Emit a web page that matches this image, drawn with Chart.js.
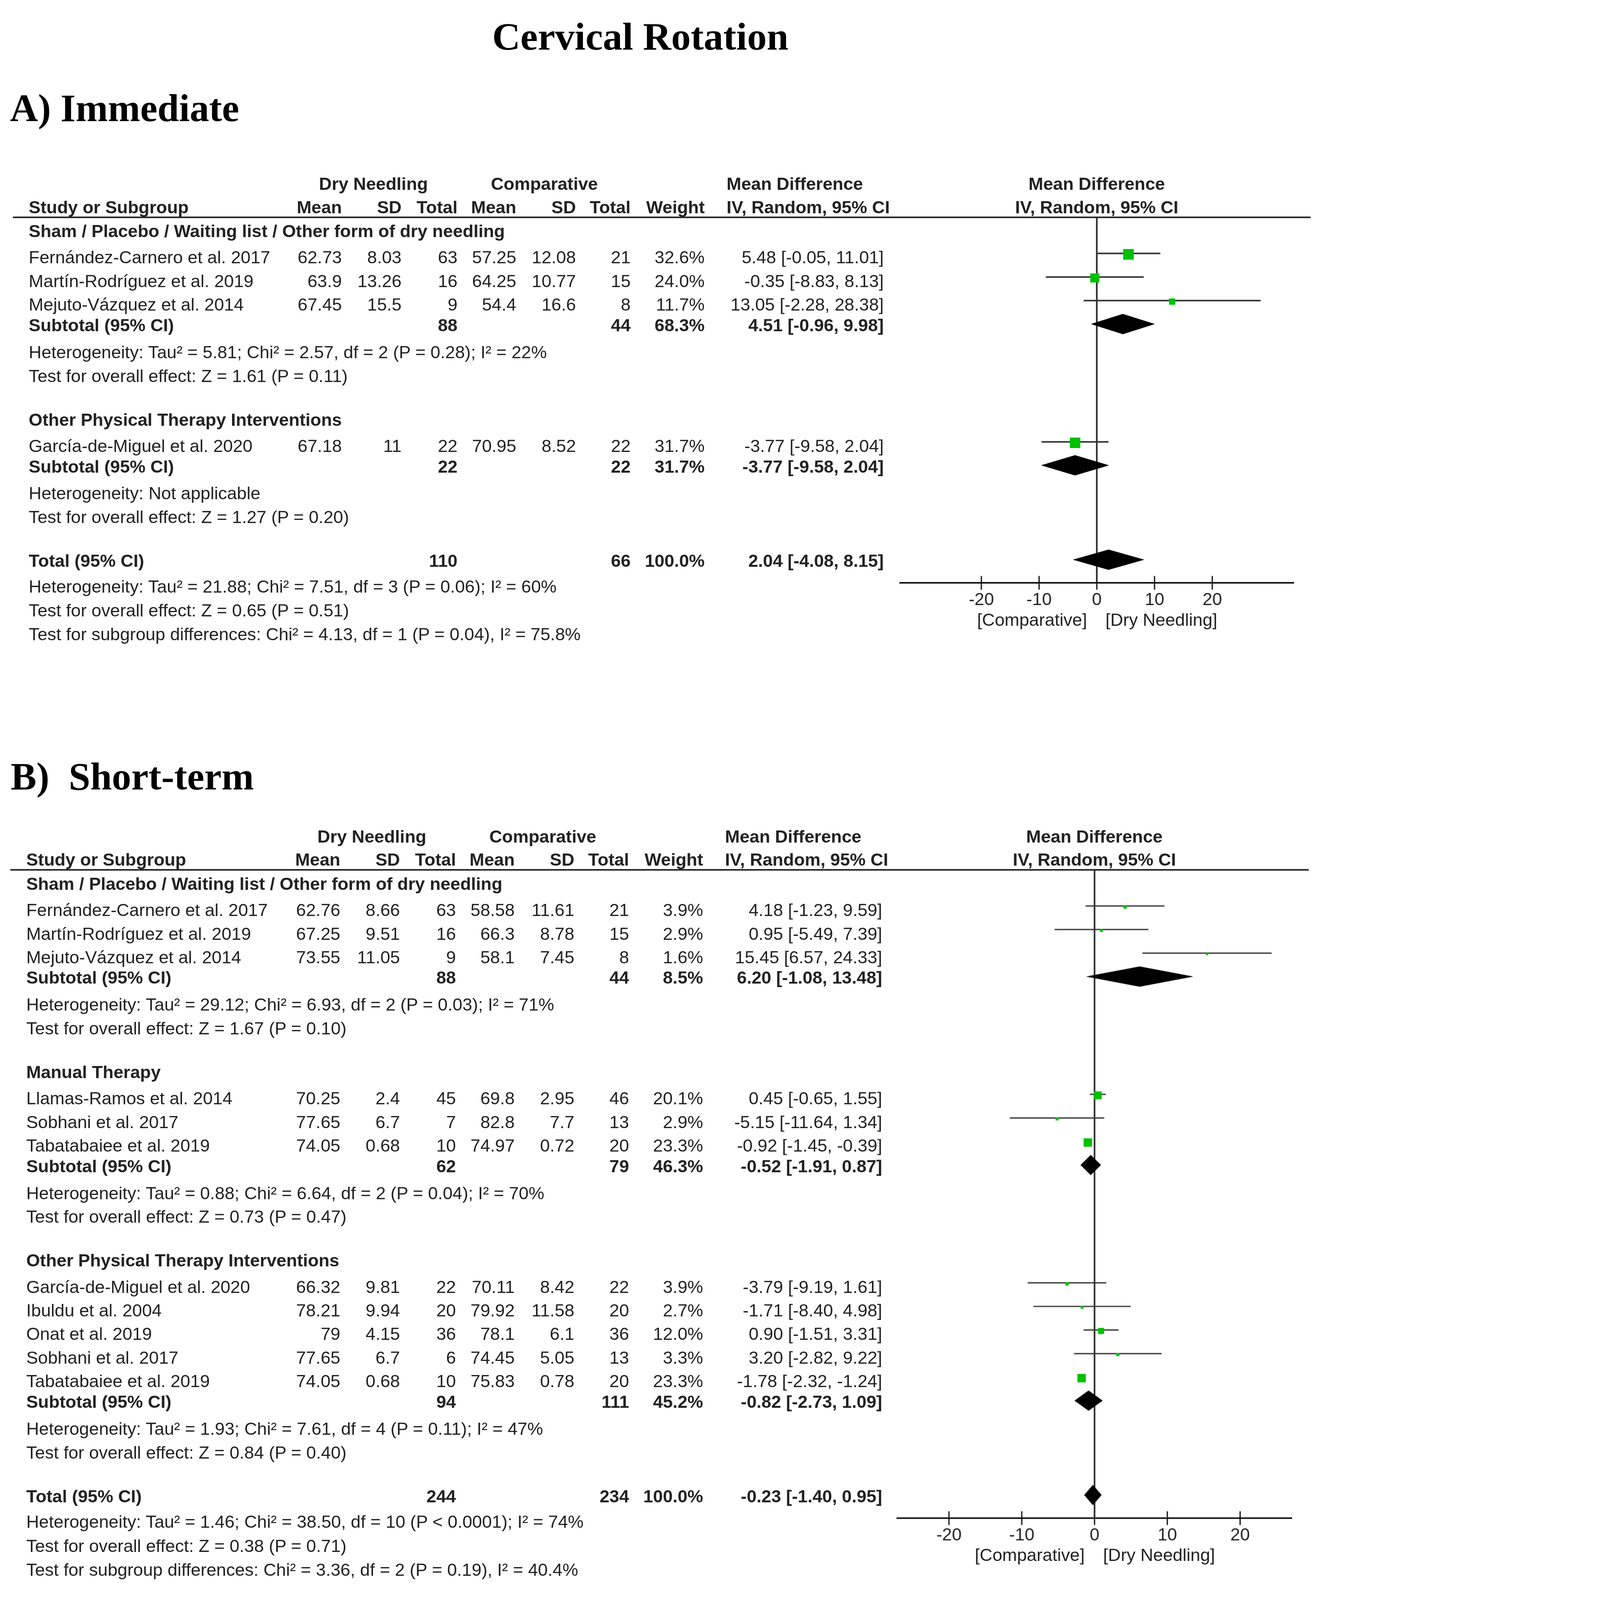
<!DOCTYPE html>
<html>
<head>
<meta charset="utf-8">
<title>Cervical Rotation</title>
<script src="https://cdn.jsdelivr.net/npm/chart.js@4.4.1/dist/chart.umd.min.js"></script>
<style>
html, body { margin: 0; padding: 0; background: #fff; overflow: hidden; }
#page { position: relative; width: 4232px; height: 5120px; overflow: hidden; transform-origin: 0 0;
        font-family: "Liberation Sans", Arial, Helvetica, sans-serif; font-size: 56.5px; color: #222; }
.t { position: absolute; white-space: pre; line-height: 64px; height: 64px; }
.b { font-weight: bold; }
.head { position: absolute; white-space: pre; font-family: "Liberation Serif", "Times New Roman", serif;
        font-weight: bold; color: #000; }
.rule { position: absolute; height: 0; border-top: 5px solid #222; }
canvas { position: absolute; }
</style>
</head>
<body>
<div id="page"></div>
<script>
// ---- A) Immediate ----
var immGroups = ['Sham / Placebo / Waiting list / Other form of dry needling', 'Other Physical Therapy Interventions'];
var immStudies = ['Fernández-Carnero et al. 2017', 'Martín-Rodríguez et al. 2019', 'Mejuto-Vázquez et al. 2014', 'García-de-Miguel et al. 2020'];
var immGroupOf = [0, 0, 0, 1];
var immDnMean = [62.73, 63.9, 67.45, 67.18];
var immDnSd = [8.03, 13.26, 15.5, 11];
var immDnN = [63, 16, 9, 22];
var immCoMean = [57.25, 64.25, 54.4, 70.95];
var immCoSd = [12.08, 10.77, 16.6, 8.52];
var immCoN = [21, 15, 8, 22];
var immWeight = [32.6, 24.0, 11.7, 31.7];
var immMD = [5.48, -0.35, 13.05, -3.77];
var immLo = [-0.05, -8.83, -2.28, -9.58];
var immHi = [11.01, 8.13, 28.38, 2.04];
var immSubDnN = [88, 22];
var immSubCoN = [44, 22];
var immSubWeight = [68.3, 31.7];
var immSubMD = [4.51, -3.77];
var immSubLo = [-0.96, -9.58];
var immSubHi = [9.98, 2.04];
var immSubHet = ['Heterogeneity: Tau² = 5.81; Chi² = 2.57, df = 2 (P = 0.28); I² = 22%', 'Heterogeneity: Not applicable'];
var immSubTest = ['Test for overall effect: Z = 1.61 (P = 0.11)', 'Test for overall effect: Z = 1.27 (P = 0.20)'];
var immTotalN = [110, 66];
var immTotalWeight = 100.0;
var immTotalCI = [2.04, -4.08, 8.15];
var immTotalNotes = ['Heterogeneity: Tau² = 21.88; Chi² = 7.51, df = 3 (P = 0.06); I² = 60%',
	'Test for overall effect: Z = 0.65 (P = 0.51)',
	'Test for subgroup differences: Chi² = 4.13, df = 1 (P = 0.04), I² = 75.8%'];

// ---- B) Short-term ----
var stGroups = ['Sham / Placebo / Waiting list / Other form of dry needling', 'Manual Therapy', 'Other Physical Therapy Interventions'];
var stStudies = ['Fernández-Carnero et al. 2017', 'Martín-Rodríguez et al. 2019', 'Mejuto-Vázquez et al. 2014',
	'Llamas-Ramos et al. 2014', 'Sobhani et al. 2017', 'Tabatabaiee et al. 2019',
	'García-de-Miguel et al. 2020', 'Ibuldu et al. 2004', 'Onat et al. 2019', 'Sobhani et al. 2017', 'Tabatabaiee et al. 2019'];
var stGroupOf = [0, 0, 0, 1, 1, 1, 2, 2, 2, 2, 2];
var stDnMean = [62.76, 67.25, 73.55, 70.25, 77.65, 74.05, 66.32, 78.21, 79, 77.65, 74.05];
var stDnSd = [8.66, 9.51, 11.05, 2.4, 6.7, 0.68, 9.81, 9.94, 4.15, 6.7, 0.68];
var stDnN = [63, 16, 9, 45, 7, 10, 22, 20, 36, 6, 10];
var stCoMean = [58.58, 66.3, 58.1, 69.8, 82.8, 74.97, 70.11, 79.92, 78.1, 74.45, 75.83];
var stCoSd = [11.61, 8.78, 7.45, 2.95, 7.7, 0.72, 8.42, 11.58, 6.1, 5.05, 0.78];
var stCoN = [21, 15, 8, 46, 13, 20, 22, 20, 36, 13, 20];
var stWeight = [3.9, 2.9, 1.6, 20.1, 2.9, 23.3, 3.9, 2.7, 12.0, 3.3, 23.3];
var stMD = [4.18, 0.95, 15.45, 0.45, -5.15, -0.92, -3.79, -1.71, 0.90, 3.20, -1.78];
var stLo = [-1.23, -5.49, 6.57, -0.65, -11.64, -1.45, -9.19, -8.40, -1.51, -2.82, -2.32];
var stHi = [9.59, 7.39, 24.33, 1.55, 1.34, -0.39, 1.61, 4.98, 3.31, 9.22, -1.24];
var stSubDnN = [88, 62, 94];
var stSubCoN = [44, 79, 111];
var stSubWeight = [8.5, 46.3, 45.2];
var stSubMD = [6.20, -0.52, -0.82];
var stSubLo = [-1.08, -1.91, -2.73];
var stSubHi = [13.48, 0.87, 1.09];
var stSubHet = ['Heterogeneity: Tau² = 29.12; Chi² = 6.93, df = 2 (P = 0.03); I² = 71%',
	'Heterogeneity: Tau² = 0.88; Chi² = 6.64, df = 2 (P = 0.04); I² = 70%',
	'Heterogeneity: Tau² = 1.93; Chi² = 7.61, df = 4 (P = 0.11); I² = 47%'];
var stSubTest = ['Test for overall effect: Z = 1.67 (P = 0.10)', 'Test for overall effect: Z = 0.73 (P = 0.47)', 'Test for overall effect: Z = 0.84 (P = 0.40)'];
var stTotalN = [244, 234];
var stTotalWeight = 100.0;
var stTotalCI = [-0.23, -1.40, 0.95];
var stTotalNotes = ['Heterogeneity: Tau² = 1.46; Chi² = 38.50, df = 10 (P < 0.0001); I² = 74%',
	'Test for overall effect: Z = 0.38 (P = 0.71)',
	'Test for subgroup differences: Chi² = 3.36, df = 2 (P = 0.19), I² = 40.4%'];

var axisTicks = [-20, -10, 0, 10, 20];

var PAGE_W = 4232, PAGE_H = 5120;
var FONT = '"Liberation Sans", Arial, Helvetica, sans-serif';
var page = document.getElementById('page');

// shrink the whole sheet if the window is smaller than the sheet
var fit = Math.min(1, window.innerWidth / PAGE_W, window.innerHeight / PAGE_H);
if (fit < 1) page.style.transform = 'scale(' + fit + ')';

function txt(s, x, y, align, cls) {
	var d = document.createElement('div');
	d.className = 't ' + (cls || '');
	d.textContent = s;
	if (align === 'right') {
		d.style.right = (PAGE_W - x) + 'px';
	} else if (align === 'center') {
		d.style.left = x + 'px';
		d.style.transform = 'translateX(-50%)';
	} else {
		d.style.left = x + 'px';
	}
	d.style.top = (y - 32) + 'px';
	page.appendChild(d);
	return d;
}
function heading(s, x, y, size, center) {
	var d = document.createElement('div');
	d.className = 'head';
	d.textContent = s;
	d.style.fontSize = size + 'px';
	d.style.lineHeight = Math.round(size * 1.16) + 'px';
	d.style.left = x + 'px';
	d.style.top = Math.round(y - size * 0.58) + 'px';
	if (center) d.style.transform = 'translateX(-50%)';
	page.appendChild(d);
	return d;
}
function fmtCI(md, lo, hi) { return md.toFixed(2) + ' [' + lo.toFixed(2) + ', ' + hi.toFixed(2) + ']'; }
function fmtW(w) { return w.toFixed(1) + '%'; }

function buildPanel(p) {
	var cols = [1094, 1285, 1464, 1652, 1843, 2018, 2255, 2828].map(function (c) { return c + p.dx; });
	var hdrY1 = p.lineY - 106, hdrY2 = p.lineY - 32;

	// table header
	txt('Dry Needling', 1195 + p.dx, hdrY1, 'center', 'b');
	txt('Comparative', 1742 + p.dx, hdrY1, 'center', 'b');
	txt('Mean Difference', 2325 + p.dx, hdrY1, 'left', 'b');
	txt('Study or Subgroup', p.studyX, hdrY2, 'left', 'b');
	['Mean', 'SD', 'Total', 'Mean', 'SD', 'Total', 'Weight'].forEach(function (h, k) {
		txt(h, cols[k], hdrY2, 'right', 'b');
	});
	txt('IV, Random, 95% CI', 2325 + p.dx, hdrY2, 'left', 'b');
	var rule = document.createElement('div');
	rule.className = 'rule';
	rule.style.left = p.ruleL + 'px';
	rule.style.width = (p.ruleR - p.ruleL) + 'px';
	rule.style.top = (p.lineY - 2) + 'px';
	page.appendChild(rule);

	// rows
	var studyRows = [], diamondRows = [];
	var y = p.lineY + 45;
	p.groups.forEach(function (g, gi) {
		if (gi > 0) y += 140;
		txt(g, p.studyX, y, 'left', 'b');
		y += 84;
		var first = true;
		p.groupOf.forEach(function (gg, i) {
			if (gg !== gi) return;
			if (!first) y += 75.5;
			first = false;
			txt(p.studies[i], p.studyX, y);
			txt(String(p.dnMean[i]), cols[0], y, 'right');
			txt(String(p.dnSd[i]), cols[1], y, 'right');
			txt(String(p.dnN[i]), cols[2], y, 'right');
			txt(String(p.coMean[i]), cols[3], y, 'right');
			txt(String(p.coSd[i]), cols[4], y, 'right');
			txt(String(p.coN[i]), cols[5], y, 'right');
			txt(fmtW(p.weight[i]), cols[6], y, 'right');
			txt(fmtCI(p.md[i], p.lo[i], p.hi[i]), cols[7], y, 'right');
			studyRows.push({ i: i, y: y });
		});
		y += 66;
		txt('Subtotal (95% CI)', p.studyX, y, 'left', 'b');
		txt(String(p.subDnN[gi]), cols[2], y, 'right', 'b');
		txt(String(p.subCoN[gi]), cols[5], y, 'right', 'b');
		txt(fmtW(p.subWeight[gi]), cols[6], y, 'right', 'b');
		txt(fmtCI(p.subMD[gi], p.subLo[gi], p.subHi[gi]), cols[7], y, 'right', 'b');
		diamondRows.push({ md: p.subMD[gi], lo: p.subLo[gi], hi: p.subHi[gi], y: y });
		y += 86;
		txt(p.subHet[gi], p.studyX, y);
		y += 76;
		txt(p.subTest[gi], p.studyX, y);
	});
	y += 140;
	var totalY = y;
	txt('Total (95% CI)', p.studyX, y, 'left', 'b');
	txt(String(p.totalN[0]), cols[2], y, 'right', 'b');
	txt(String(p.totalN[1]), cols[5], y, 'right', 'b');
	txt(fmtW(p.totalWeight), cols[6], y, 'right', 'b');
	txt(fmtCI(p.totalCI[0], p.totalCI[1], p.totalCI[2]), cols[7], y, 'right', 'b');
	diamondRows.push({ md: p.totalCI[0], lo: p.totalCI[1], hi: p.totalCI[2], y: y });
	p.totalNotes.forEach(function (t, k) {
		y += (k === 0 ? 82 : 76.5);
		txt(t, p.studyX, y);
	});
	var axisY = totalY + 70;

	// forest plot
	var axisH = 130;
	var W = p.axisR - p.axisL;
	var H = axisY - p.lineY + axisH;
	var c = document.createElement('canvas');
	c.style.left = p.axisL + 'px'; c.style.top = p.lineY + 'px';
	c.style.width = W + 'px'; c.style.height = H + 'px';
	c.width = W; c.height = H;
	page.appendChild(c);

	var ciData = [];
	studyRows.forEach(function (r) {
		ciData.push({ x: p.lo[r.i], y: r.y - 13 }, { x: p.hi[r.i], y: r.y - 13 }, { x: null, y: null });
	});
	var boxData = studyRows.map(function (r) { return { x: p.md[r.i], y: r.y - 10 }; });
	var boxR = studyRows.map(function (r) { return p.box * Math.sqrt(p.weight[r.i]) / Math.SQRT2; });

	var datasets = [
		{ type: 'scatter', data: boxData, pointStyle: 'rect', pointRadius: boxR, pointHoverRadius: boxR,
		  backgroundColor: '#00c000', borderColor: '#00c000', borderWidth: 0, order: 0 },
		{ type: 'line', data: ciData, borderColor: '#333', borderWidth: p.lw, pointRadius: 0, spanGaps: false, order: 1 },
		{ type: 'line', data: [{ x: 0, y: p.lineY }, { x: 0, y: axisY }], borderColor: '#222', borderWidth: 5, pointRadius: 0, order: 3 },
		{ type: 'scatter', data: axisTicks.map(function (v) { return { x: v, y: axisY }; }), pointStyle: 'line',
		  pointRotation: 90, pointRadius: 22, pointBorderColor: '#111', pointBorderWidth: 4, clip: false, order: 4 }
	];
	diamondRows.forEach(function (d) {
		var cy = d.y - 4;
		datasets.push({ type: 'line', data: [{ x: d.lo, y: cy }, { x: d.md, y: cy - 32 }, { x: d.hi, y: cy }, { x: d.md, y: cy + 32 }, { x: d.lo, y: cy }],
			fill: 'shape', backgroundColor: '#000', borderColor: '#000', borderWidth: 1, pointRadius: 0, order: 2 });
	});

	var chart = new Chart(c, {
		type: 'line',
		data: { datasets: datasets },
		options: {
			responsive: false,
			animation: false,
			devicePixelRatio: (window.devicePixelRatio || 1) * fit,
			events: [],
			layout: { padding: 0, autoPadding: false },
			plugins: { legend: { display: false }, tooltip: { enabled: false } },
			scales: {
				x: {
					type: 'linear', position: 'bottom', min: p.xMin, max: p.xMax,
					afterBuildTicks: function (s) { s.ticks = axisTicks.map(function (v) { return { value: v }; }); },
					afterFit: function (s) { s.height = axisH; },
					grid: { display: false, drawTicks: false },
					border: { display: true, color: '#111', width: 5 },
					ticks: { autoSkip: false, maxRotation: 0, padding: 22, color: '#222', font: { family: FONT, size: 56 } }
				},
				y: { type: 'linear', display: false, reverse: true, min: p.lineY, max: axisY }
			}
		}
	});

	var zeroPx = p.axisL + chart.scales.x.getPixelForValue(0);
	txt('Mean Difference', zeroPx, hdrY1, 'center', 'b');
	txt('IV, Random, 95% CI', zeroPx, hdrY2, 'center', 'b');
	txt('[Comparative]', zeroPx - 31, axisY + 118, 'right');
	txt('[Dry Needling]', zeroPx + 28, axisY + 118, 'left');
}

heading('Cervical Rotation', 2049, 117, 125, true);
heading('A) Immediate', 32, 347, 124);
heading('B)  Short-term', 34, 2485, 124);

buildPanel({
	lineY: 695, dx: 0, studyX: 92, ruleL: 41, ruleR: 4194, axisL: 2878, axisR: 4141,
	xMin: -34.2, xMax: 34.2, box: 5.95, lw: 5,
	groups: immGroups, studies: immStudies, groupOf: immGroupOf,
	dnMean: immDnMean, dnSd: immDnSd, dnN: immDnN, coMean: immCoMean, coSd: immCoSd, coN: immCoN,
	weight: immWeight, md: immMD, lo: immLo, hi: immHi,
	subDnN: immSubDnN, subCoN: immSubCoN, subWeight: immSubWeight, subMD: immSubMD, subLo: immSubLo, subHi: immSubHi,
	subHet: immSubHet, subTest: immSubTest,
	totalN: immTotalN, totalWeight: immTotalWeight, totalCI: immTotalCI, totalNotes: immTotalNotes
});

buildPanel({
	lineY: 2783, dx: -5, studyX: 84, ruleL: 33, ruleR: 4188, axisL: 2869, axisR: 4135,
	xMin: -27.2, xMax: 27.2, box: 5.6, lw: 4,
	groups: stGroups, studies: stStudies, groupOf: stGroupOf,
	dnMean: stDnMean, dnSd: stDnSd, dnN: stDnN, coMean: stCoMean, coSd: stCoSd, coN: stCoN,
	weight: stWeight, md: stMD, lo: stLo, hi: stHi,
	subDnN: stSubDnN, subCoN: stSubCoN, subWeight: stSubWeight, subMD: stSubMD, subLo: stSubLo, subHi: stSubHi,
	subHet: stSubHet, subTest: stSubTest,
	totalN: stTotalN, totalWeight: stTotalWeight, totalCI: stTotalCI, totalNotes: stTotalNotes
});
</script>
</body>
</html>
